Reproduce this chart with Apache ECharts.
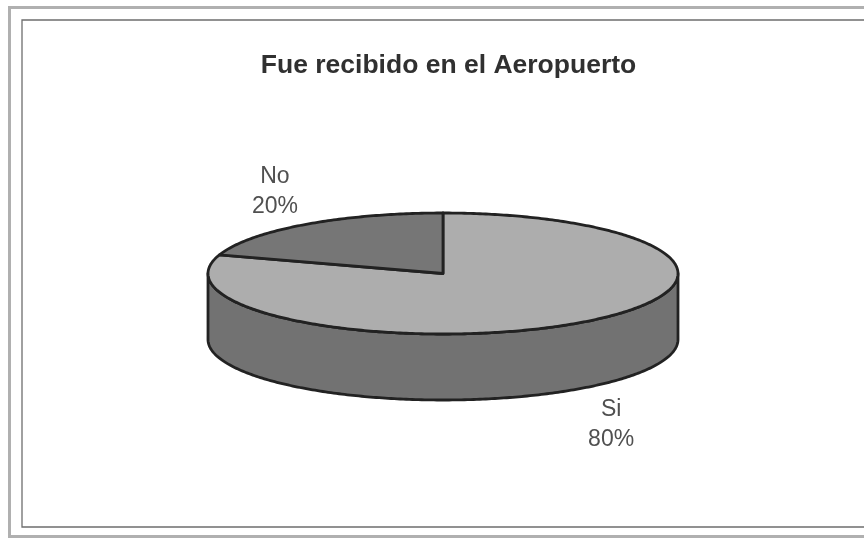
<!DOCTYPE html>
<html>
<head>
<meta charset="utf-8">
<style>html,body{margin:0;padding:0;background:#fff}#c{width:864px;height:538px}</style>
<script src="https://cdn.jsdelivr.net/npm/echarts@6/dist/echarts.min.js"></script>
</head>
<body>
<div id="c"></div>
<script>
var chartTitle = 'Fue recibido en el Aeropuerto';
var categories = ['Si', 'No'];
var values = [80, 20];

var total = values.reduce(function (a, b) { return a + b; }, 0);
var CX = 443, CY = 273.5, RX = 235, RY = 60.5, DEPTH = 66;
var OUT = '#222222';
var topColors = ['#adadad', '#767676'];
var sideColor = '#727272';

function px(t) { return CX + RX * Math.sin(t); }
function py(t) { return CY - RY * Math.cos(t); }
function arc(a, b, dy) {
  var pts = [], n = Math.max(2, Math.ceil(Math.abs(b - a) / (Math.PI / 240)));
  for (var i = 0; i <= n; i++) {
    var t = a + (b - a) * i / n;
    pts.push([px(t), py(t) + (dy || 0)]);
  }
  return pts;
}

var chart = echarts.init(document.getElementById('c'), null, { renderer: 'canvas' });
chart.setOption({
  animation: false,
  backgroundColor: '#ffffff',
  title: {
    text: chartTitle, left: 443.5, top: 47, textAlign: 'center',
    textStyle: { fontFamily: 'Liberation Sans', fontSize: 26.5, fontWeight: 'bold', color: '#303030' }
  },
  graphic: [
    { type: 'rect', shape: { x: 9.5, y: 7.5, width: 900, height: 529 }, style: { fill: 'none', stroke: '#b0b0b0', lineWidth: 3 }, silent: true },
    { type: 'rect', shape: { x: 22, y: 20, width: 900, height: 507 }, style: { fill: 'none', stroke: '#6e6e6e', lineWidth: 1.3 }, silent: true }
  ],
  series: [{
    type: 'custom',
    coordinateSystem: 'none',
    data: categories.map(function (c, i) { return { name: c, value: values[i] }; }),
    renderItem: function (params, api) {
      var i = params.dataIndex, before = 0;
      for (var k = 0; k < i; k++) before += values[k];
      var a = before / total * 2 * Math.PI;
      var b = (before + values[i]) / total * 2 * Math.PI;
      var mid = (a + b) / 2;
      var children = [];
      // visible front wall of the slice
      var fa = Math.max(a, Math.PI / 2), fb = Math.min(b, 3 * Math.PI / 2);
      if (fb > fa) {
        var rim = arc(fa, fb, 0), low = arc(fb, fa, DEPTH);
        children.push({
          type: 'polygon', shape: { points: rim.concat(low) },
          style: { fill: sideColor, stroke: OUT, lineWidth: 2.8, lineJoin: 'round' }
        });
      }
      // top face of the slice
      children.push({
        type: 'polygon', shape: { points: [[CX, CY]].concat(arc(a, b, 0)) },
        style: { fill: topColors[i], stroke: OUT, lineWidth: 2.8, lineJoin: 'round' }
      });
      // label
      var lx = CX + 286 * Math.sin(mid);
      var ly = CY - 101 * Math.cos(mid) + (Math.cos(mid) < 0 ? DEPTH + 3 : 0);
      children.push({
        type: 'text', z2: 10,
        style: {
          text: categories[i] + '\n' + values[i] + '%',
          x: lx, y: ly, align: 'center', verticalAlign: 'middle',
          font: '23px "Liberation Sans"', lineHeight: 30, fill: '#505050'
        }
      });
      return { type: 'group', children: children };
    }
  }]
});
</script>
</body>
</html>
